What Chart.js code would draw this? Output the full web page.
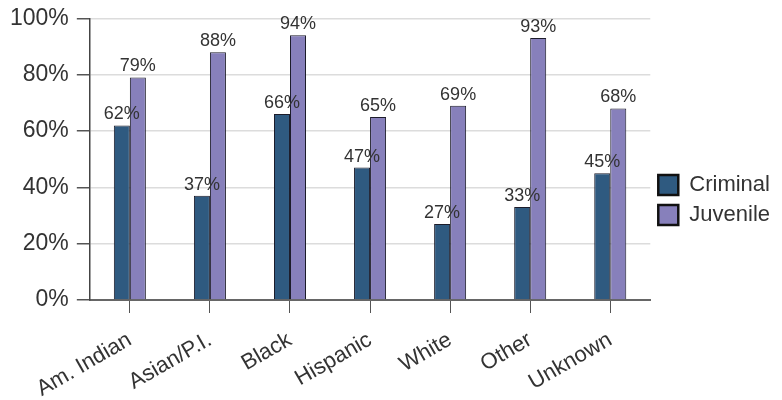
<!DOCTYPE html>
<html>
<head>
<meta charset="utf-8">
<script src="https://cdn.jsdelivr.net/npm/chart.js@4"></script>
<style>
  html, body { margin: 0; padding: 0; background: #fff; }
  #wrap { width: 782px; height: 400px; }
</style>
</head>
<body>
<div id="wrap"><canvas id="chart"></canvas></div>
<script>
// ── DATA ──────────────────────────────────────────────────────────
const categories = ['Am. Indian', 'Asian/P.I.', 'Black', 'Hispanic', 'White', 'Other', 'Unknown'];
const criminal   = [62, 37, 66, 47, 27, 33, 45];
const juvenile   = [79, 88, 94, 65, 69, 93, 68];
const yTicks     = [0, 20, 40, 60, 80, 100];

const FONT = "'Liberation Sans', Arial, sans-serif";

// value labels above each bar
const barLabels = {
  id: 'barLabels',
  afterDatasetsDraw(chart) {
    const ctx = chart.ctx;
    ctx.save();
    ctx.font = `18px ${FONT}`;
    ctx.fillStyle = '#333';
    ctx.textAlign = 'center';
    ctx.textBaseline = 'bottom';
    chart.data.datasets.forEach((ds, i) => {
      chart.getDatasetMeta(i).data.forEach((bar, j) => {
        ctx.fillText(ds.data[j] + '%', bar.x, bar.y - 2);
      });
    });
    ctx.restore();
  }
};

new Chart(document.getElementById('chart'), {
  type: 'bar',
  data: {
    labels: categories,
    datasets: [
      { label: 'Criminal', data: criminal, backgroundColor: '#2f5a80', borderColor: '#1c1c2a', borderWidth: 1 },
      { label: 'Juvenile', data: juvenile, backgroundColor: '#8780bb', borderColor: '#1c1c2a', borderWidth: 1 },
    ],
  },
  options: {
    responsive: true,
    maintainAspectRatio: false,
    animation: false,
    layout: { padding: { top: 0, left: 2, right: 2, bottom: 0 } },
    datasets: { bar: { categoryPercentage: 0.4, barPercentage: 1.0 } },
    plugins: {
      legend: {
        position: 'right',
        labels: {
          font: { family: FONT, size: 22 },
          color: '#333',
          boxWidth: 20,
          boxHeight: 20,
          padding: 8,
          generateLabels(chart) {
            return chart.data.datasets.map((ds, i) => ({
              text: ds.label,
              fillStyle: ds.backgroundColor,
              strokeStyle: '#111',
              lineWidth: 2.5,
              fontColor: '#333',
              datasetIndex: i,
            }));
          },
        },
      },
      tooltip: { enabled: false },
    },
    scales: {
      x: {
        afterFit(axis) { axis.height = 100; },
        grid: { offset: false, drawOnChartArea: false, drawTicks: true, tickLength: 13, tickColor: '#555' },
        border: { color: '#666', width: 2 },
        ticks: {
          font: { family: FONT, size: 22 },
          color: '#333',
          maxRotation: 30,
          minRotation: 30,
          padding: 14,
        },
      },
      y: {
        min: 0,
        max: 100,
        afterBuildTicks(axis) { axis.ticks = yTicks.map(v => ({ value: v })); },
        grid: { color: '#dcdcdc', lineWidth: 1.5, tickLength: 13, tickColor: '#555' },
        border: { color: '#444', width: 1.5 },
        ticks: {
          font: { family: FONT, size: 23, lineHeight: 0.9 },
          color: '#333',
          padding: 8,
          callback: v => v + '%',
        },
      },
    },
  },
  plugins: [barLabels],
});
</script>
</body>
</html>
